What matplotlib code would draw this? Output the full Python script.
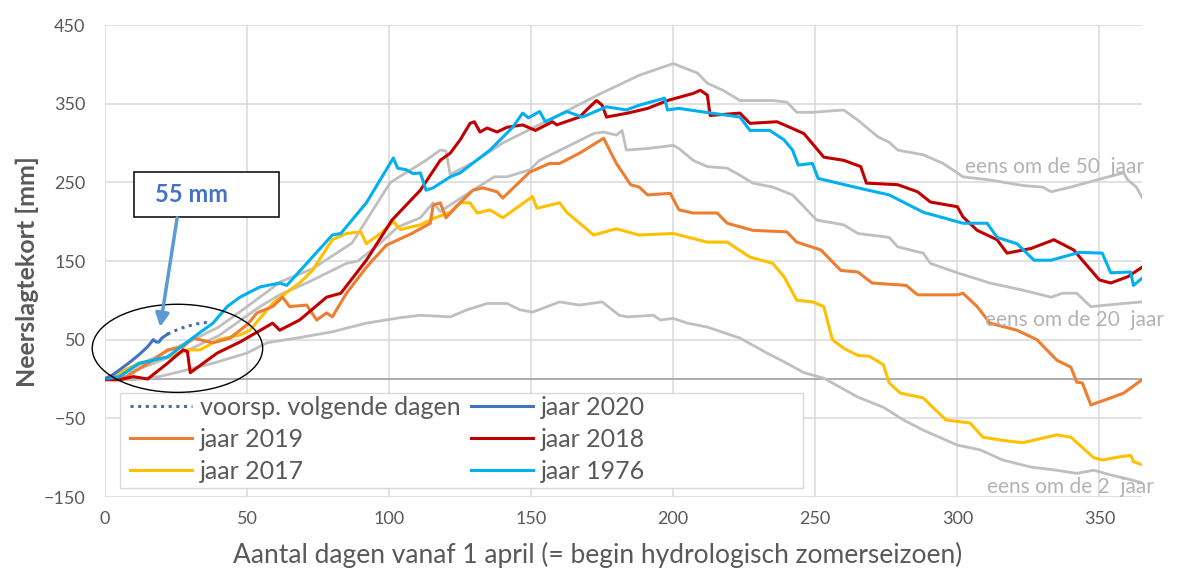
import matplotlib
matplotlib.use("Agg")
import matplotlib.pyplot as plt
from matplotlib.patches import Rectangle, Ellipse
from matplotlib.lines import Line2D

plt.rcParams['font.family'] = ['Lato', 'DejaVu Sans']

# --- data (dagen vanaf 1 april, neerslagtekort in mm) ---
d2020 = [0, 3, 6, 9, 12, 15, 17, 18, 19, 20, 22]
v2020 = [0, 6, 14, 22, 31, 41, 50, 47, 47, 52, 57]

d_fc = [22, 25, 28, 32, 36]
v_fc = [57, 62, 66, 70, 72]

d1976 = [0, 5, 12, 22, 33, 38, 43, 47.5, 54.5, 61.5, 64, 73, 80, 83, 92, 101.5, 103, 106,
         108.5, 111, 113, 115.5, 121.5, 125, 135.5, 143.5, 147, 149, 153, 155, 162.5, 168,
         176.5, 183.5, 188, 197, 198, 202, 209.5, 223.5, 227, 234, 239, 242, 244, 249, 251,
         265, 276, 288, 302, 310.5, 314, 321, 327, 333, 343, 351, 354, 361, 362, 365]
v1976 = [0, 3, 20, 28, 58, 71, 92, 104, 117, 122, 119, 155, 183, 185, 224, 281, 268, 266,
         261, 262, 240, 243, 257, 262, 291, 320, 338, 332, 340, 327, 340, 333,
         346, 342, 348, 357, 342, 344, 340, 333, 316, 316, 304, 291, 272, 274, 255,
         243, 234, 212, 198, 198, 180, 172, 151, 151, 161, 160, 135, 136, 119, 128]

d2018 = [0, 5, 10, 15, 22, 27.5, 29, 30, 39.5, 47.5, 59, 61.5, 68.5, 78, 83, 92, 101, 111,
         118, 121.5, 125, 128.5, 130, 132, 134.5, 138, 141.5, 147, 151.5, 157.5, 159, 167,
         169.5, 173, 175, 176.5, 184, 191, 198, 207, 209.5, 212, 213, 223.5, 227, 236.5, 241,
         246, 253, 260, 266, 268, 279, 286, 290.5, 300, 302, 307, 314, 317.5, 326, 334, 341,
         344, 350, 354, 360, 365]
v2018 = [-1, -1, 3, 0, 20, 37, 35, 8, 33, 47, 71, 62, 75, 104, 109, 151, 202, 240,
         278, 287, 304, 325, 327, 314, 319, 314, 320, 323, 316, 327, 323, 333,
         342, 354, 348, 333, 338, 344, 354, 363, 367, 361, 335, 338, 325, 327, 320,
         312, 282, 278, 270, 249, 247, 238, 225, 219, 206, 189, 177, 160, 166, 177, 164,
         151, 126, 122, 130, 142]

d2019 = [0, 7.5, 17, 22, 27.5, 31, 38, 44, 50, 53.5, 59, 62.5, 65, 71, 74.5, 78, 80, 85, 92,
         99, 108, 114.5, 115.5, 118, 120, 125, 129.5, 133, 138, 140, 149.5, 156.5, 160, 167,
         175.5, 180, 185, 188, 191, 199, 202, 207, 215.5, 219, 228, 240, 243.5, 252, 259,
         265, 270, 282, 286, 300, 302, 307, 311.5, 321, 328, 335, 340, 342, 344, 347, 354,
         358.5, 365]
v2019 = [1, 3, 24, 37, 41, 52, 46, 52, 69, 84, 92, 104, 92, 94, 75, 84, 79, 109, 142,
         170, 185, 198, 221, 224, 205, 224, 240, 243, 238, 230, 263, 274, 274, 287,
         306, 274, 247, 244, 234, 236, 215, 211, 211, 198, 189, 187, 174, 164, 138,
         136, 122, 119, 107, 107, 109, 92, 71, 62, 50, 24, 15, -4, -5, -33, -24,
         -18, -1]

d2017 = [0, 5, 12, 22, 29, 33.5, 40, 47.5, 51, 59, 65, 68.5, 73, 80, 85, 90, 92, 97, 101.5,
         104, 111, 115.5, 121.5, 125, 128.5, 131, 135.5, 140, 150.5, 152, 160, 162.5, 172,
         180, 188, 200, 212, 219, 227, 235, 239, 243.5, 249, 253, 256, 260, 265, 269, 274,
         276, 280, 288, 290.5, 296, 304.5, 309, 316, 323, 335, 340, 348, 351, 357, 361,
         362, 365]
v2017 = [1, 8, 20, 28, 37, 37, 50, 56, 62, 96, 113, 122, 138, 177, 185, 187, 172, 185, 200,
         190, 196, 204, 212, 224, 224, 211, 215, 205, 232, 217, 224, 212, 183,
         191, 183, 185, 174, 174, 155, 147, 130, 100, 98, 92, 50, 39, 30, 29, 18,
         -5, -18, -24, -33, -52, -56, -74, -78, -81, -71, -74, -100, -103, -99, -97,
         -105, -109]

d50 = [0, 10, 20, 30, 40, 50, 62, 73, 87, 98, 100.5, 113, 118, 120, 121.5, 130, 140, 150,
       160, 174, 188, 200, 208.5, 212, 217.5, 223.5, 235, 240, 243.5, 249, 260, 265, 272,
       276, 279, 288, 295, 300, 302, 311.5, 323, 330, 333, 340, 351, 358.5, 360, 363, 365]
v50 = [0, 14, 32, 48, 66, 92, 124, 140, 173, 236, 250, 278, 291, 290, 260, 276, 300, 318,
       336, 362, 386, 401, 389, 376, 367, 354, 354, 352, 339, 339, 342, 329, 308,
       301, 291, 285, 274, 262, 257, 253, 246, 244, 238, 244, 255, 262, 253, 244, 231]

d20 = [0, 10, 20, 30, 40, 54.5, 62, 71, 85, 89, 96, 103, 111, 115.5, 118, 129.5, 137, 141.5,
       149.5, 153, 162.5, 172, 175.5, 180, 182, 183.5, 191, 200, 202, 207, 212, 219, 223.5,
       228, 235, 242, 246, 250.5, 260, 265, 276, 279, 288, 290.5, 300, 311.5, 323, 333,
       337, 342, 347, 358.5, 365]
v20 = [0, 10, 24, 38, 55, 92, 108, 122, 147, 150, 170, 193, 205, 224, 213, 240, 257, 257,
       266, 278, 295, 312, 314, 310, 316, 291, 293, 297, 293, 278, 270, 268, 259,
       249, 244, 234, 219, 202, 196, 185, 180, 168, 160, 147, 135, 122, 113, 104,
       109, 109, 92, 96, 98]

d2 = [0, 10, 19, 26, 38, 50, 57, 69, 80, 92, 104, 111, 121.5, 127.5, 134.5, 141.5, 146,
      150.5, 160, 167, 175, 181, 184, 193, 195.5, 200, 205, 212, 223.5, 233, 240, 246, 253,
      265, 274, 281, 288, 300, 308, 316, 326, 335, 342, 348, 354, 361, 365]
v2 = [0, -1, 3, 9, 20, 33, 46, 53, 60, 71, 78, 81, 79, 88, 96, 96, 88,
      85, 98, 94, 98, 81, 79, 81, 75, 77, 71, 66, 52, 33, 20, 8, 1,
      -23, -36, -52, -65, -84, -90, -103, -112, -116, -120, -116, -122, -128, -132]

legend_labels = ['voorsp. volgende dagen', 'jaar 2019', 'jaar 2017',
                 'jaar 2020', 'jaar 2018', 'jaar 1976']

# --- figure ---
fig = plt.figure(figsize=(11.78, 5.72), dpi=100)
ax = fig.add_axes([105 / 1178, 75 / 572, 1037 / 1178, 472 / 572])

grey = '#BFBFBF'
c2020 = '#4472C4'
cfc = '#44729C'
c2019 = '#ED7D31'
c2018 = '#C00000'
c2017 = '#FFC000'
c1976 = '#00B0F0'

ax.plot(d50, v50, color=grey, lw=2.0, zorder=3)
ax.plot(d20, v20, color=grey, lw=2.0, zorder=3)
ax.plot(d2, v2, color=grey, lw=2.0, zorder=3)
ax.plot(d2017, v2017, color=c2017, lw=2.2, zorder=4)
ax.plot(d2019, v2019, color=c2019, lw=2.2, zorder=4)
ax.plot(d2018, v2018, color=c2018, lw=2.2, zorder=5)
ax.plot(d1976, v1976, color=c1976, lw=2.2, zorder=5)
ax.plot(d2020, v2020, color=c2020, lw=2.2, zorder=6)
ax.plot(d_fc, v_fc, color=cfc, lw=2.2, ls=(0, (1, 1.5)), zorder=6)

ax.set_xlim(0, 365)
ax.set_ylim(-150, 450)
ax.set_xticks(range(0, 351, 50))
ax.set_yticks(range(-150, 451, 100))
ax.grid(True, color='#D9D9D9', lw=1.1, zorder=0)
ax.set_axisbelow(True)
ax.axhline(0, color='#A6A6A6', lw=1.3, zorder=1)
for s in ax.spines.values():
    s.set_visible(False)
ax.tick_params(length=0, labelsize=13, labelcolor='#595959')
ax.tick_params(axis='y', pad=14)
ax.tick_params(axis='x', pad=10)

# labels
fig.text(27 / 1178, 1 - 272 / 572, 'Neerslagtekort [mm]', rotation=90, fontsize=18,
         fontweight='bold', color='#595959', ha='center', va='center')
fig.text(598 / 1178, 1 - 555 / 572,
         'Aantal dagen vanaf 1 april (= begin hydrologisch zomerseizoen)',
         fontsize=19, color='#595959', ha='center', va='center')

# return period labels
lab_grey = '#B3B3B3'
ax.text(302.8, 269, 'eens om de 50  jaar', fontsize=15, color=lab_grey,
        ha='left', va='center', clip_on=False, zorder=8)
ax.text(309.9, 75, 'eens om de 20  jaar', fontsize=15, color=lab_grey,
        ha='left', va='center', clip_on=False, zorder=8)
ax.text(310.6, -137, 'eens om de 2  jaar', fontsize=15, color=lab_grey,
        ha='left', va='center', clip_on=False, zorder=8)

# 55 mm callout
ax.add_patch(Rectangle((10.2, 206), 51.1, 57, facecolor='white', edgecolor='black',
                       lw=1.1, zorder=7))
ax.text(17.6, 234, '55 mm', fontsize=17, fontweight='bold', color=c2020,
        ha='left', va='center', zorder=8)
ax.annotate('', xy=(19.4, 66), xytext=(25.4, 205),
            arrowprops=dict(arrowstyle='-|>', color='#5B9BD5', lw=2.5,
                            mutation_scale=20, shrinkA=0, shrinkB=0), zorder=8)
ax.add_patch(Ellipse((25.5, 39), 60, 112, facecolor='none', edgecolor='black',
                     lw=1.0, zorder=7, clip_on=False))

# legend
ax.add_patch(Rectangle((0.0145, 0.019), 0.659, 0.201, transform=ax.transAxes,
                       facecolor='white', edgecolor='#D9D9D9', lw=1.0, zorder=2))
handles = [Line2D([], [], color=cfc, lw=2.2, ls=(0, (1, 1.5))),
           Line2D([], [], color=c2019, lw=2.2),
           Line2D([], [], color=c2017, lw=2.2),
           Line2D([], [], color=c2020, lw=2.2),
           Line2D([], [], color=c2018, lw=2.2),
           Line2D([], [], color=c1976, lw=2.2)]
leg = ax.legend(handles, legend_labels, loc='upper left', bbox_to_anchor=(0.0241, 0.214),
                ncol=2, frameon=False, fontsize=18, labelcolor='#595959',
                handlelength=2.5, handletextpad=0.3, columnspacing=0.4,
                labelspacing=0.36, borderpad=0, borderaxespad=0)
leg.set_zorder(9)

fig.savefig('out.png', dpi=100)
